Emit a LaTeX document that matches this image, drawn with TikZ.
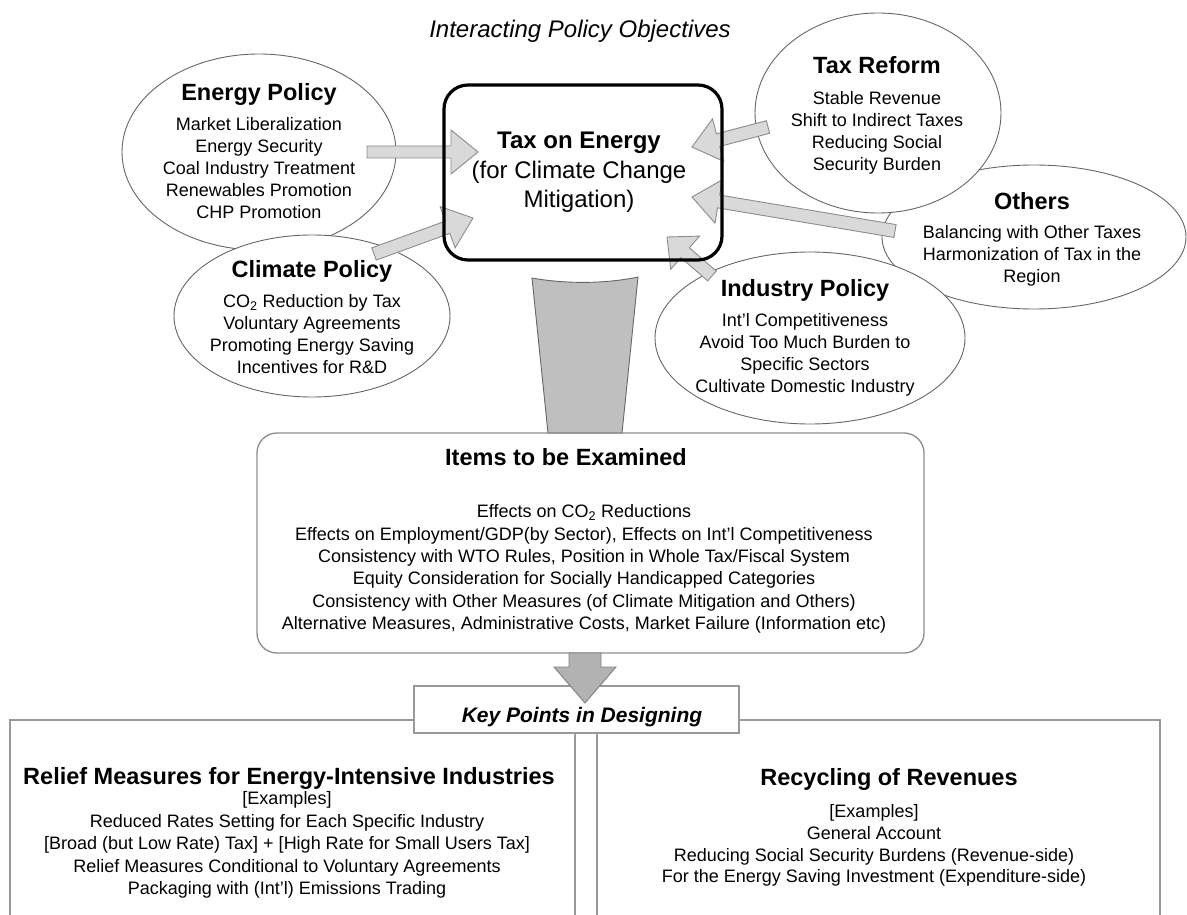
\documentclass[tikz,border=0pt]{standalone}
\usepackage{fontspec}
\setmainfont{Liberation Sans}
\usetikzlibrary{shapes.geometric,calc}

\newcommand\headfont{\fontsize{23.5}{28}\selectfont\bfseries}

% block arrow: [style]{tail}{tip}{half shaft width}{half head width}{head length}
\newcommand\blockarrow[6][]{%
  \coordinate (#2-base) at ($(#3)!#6!(#2)$);
  \path[#1] ($(#2)!#4!90:(#3)$) -- ($(#2-base)!#4!90:(#3)$)
    -- ($(#2-base)!#5!90:(#3)$) -- (#3)
    -- ($(#2-base)!#5!-90:(#3)$) -- ($(#2-base)!#4!-90:(#3)$)
    -- ($(#2)!#4!-90:(#3)$) -- cycle;
}

\begin{document}
\begin{tikzpicture}[x=1pt,y=-1pt,
  bubble/.style={ellipse, draw=black!60, line width=0.9pt, fill=white, inner sep=0pt},
  body/.style={align=center, font=\fontsize{18}{22}\selectfont, inner sep=0pt},
  inarrow/.style={fill=black!15, draw=black!45, line width=0.9pt, line join=miter},
  downarrow/.style={fill=black!30, draw=black!50, line width=0.9pt},
  funnel/.style={fill=black!25, draw=black!60, line width=0.9pt},
  itemsbox/.style={draw=black!45, line width=1.3pt, rounded corners=20pt, inner sep=0pt},
  panel/.style={draw=black!40, line width=1.5pt, inner sep=0pt},
  keybox/.style={draw=black!40, line width=1.4pt, fill=white, inner sep=0pt},
  taxbox/.style={draw=black, line width=3.2pt, rounded corners=24pt, inner sep=0pt}
]
\useasboundingbox (0,0) rectangle (1187,915);

% heading
\node[inner sep=0pt, font=\fontsize{24}{28}\selectfont\itshape] (heading) at (580,31) {Interacting Policy Objectives};

% policy bubbles
\node[bubble, minimum width=274, minimum height=196] (energy) at (259,152) {};
\node[bubble, minimum width=276, minimum height=162] (climate) at (312,316) {};
\node[bubble, minimum width=304, minimum height=144] (others) at (1034,237) {};
\node[bubble, minimum width=246, minimum height=200] (taxreform) at (878,113) {};
\node[bubble, minimum width=310, minimum height=172] (industry) at (810,338) {};

\node[body] (energyText) at (259,151) {{\headfont Energy Policy}\\[8pt]
  Market Liberalization\\ Energy Security\\ Coal Industry Treatment\\
  Renewables Promotion\\ CHP Promotion};
\node[body] (climateText) at (312,317) {{\headfont Climate Policy}\\[8pt]
  CO\textsubscript{2} Reduction by Tax\\ Voluntary Agreements\\
  Promoting Energy Saving\\ Incentives for R\&D};
\node[body] (taxreformText) at (877,115) {{\headfont Tax Reform}\\[9pt]
  Stable Revenue\\ Shift to Indirect Taxes\\ Reducing Social\\ Security Burden};
\node[body] (othersText) at (1032,239) {{\headfont Others}\\[7pt]
  Balancing with Other Taxes\\ Harmonization of Tax in the\\ Region};
\node[body] (industryText) at (805,338) {{\headfont Industry Policy}\\[8pt]
  Int'l Competitiveness\\ Avoid Too Much Burden to\\ Specific Sectors\\
  Cultivate Domestic Industry};

% arrow end points
\coordinate (energyTail) at (367,152);   \coordinate (energyTip) at (478,152);
\coordinate (climateTail) at (374,254);  \coordinate (climateTip) at (473,218);
\coordinate (reformTail) at (768,127);   \coordinate (reformTip) at (692,147);
\coordinate (othersTail) at (895,231);   \coordinate (othersTip) at (692,197);
\coordinate (industryTail) at (712,276); \coordinate (industryTip) at (667,237);

\blockarrow[inarrow]{energyTail}{energyTip}{6pt}{22pt}{27pt}
\blockarrow[inarrow]{climateTail}{climateTip}{6.5pt}{22pt}{27pt}
\blockarrow[inarrow]{reformTail}{reformTip}{6.5pt}{22pt}{27pt}
\blockarrow[inarrow]{othersTail}{othersTip}{6.5pt}{22pt}{27pt}
\blockarrow[inarrow]{industryTail}{industryTip}{6.5pt}{22pt}{24pt}

% central tax box
\node[taxbox, minimum width=278, minimum height=175] (tax) at (583,172.5) {};
\node[align=center, inner sep=0pt, font=\fontsize{24}{29.5}\selectfont] (taxText) at (579,172.5)
  {{\bfseries Tax on Energy}\\(for Climate Change\\Mitigation)};

% funnel into the examination box
\path[funnel] (532,278) .. controls (565,284) and (605,284) .. (638,277)
  -- (622,433) -- (548,433) -- cycle;

% items to be examined
\node[itemsbox, minimum width=667, minimum height=220] (items) at (590.5,543) {};
\node[inner sep=0pt, font=\headfont] (itemsTitle) at (566,457) {Items to be Examined};
\node[body, font=\fontsize{18}{22.4}\selectfont] (itemsText) at (584,569) {
  Effects on CO\textsubscript{2} Reductions\\
  Effects on Employment/GDP(by Sector), Effects on Int'l Competitiveness\\
  Consistency with WTO Rules, Position in Whole Tax/Fiscal System\\
  Equity Consideration for Socially Handicapped Categories\\
  Consistency with Other Measures (of Climate Mitigation and Others)\\
  Alternative Measures, Administrative Costs, Market Failure (Information etc)};

% design panels
\node[panel, minimum width=565, minimum height=230, anchor=north west] (relief) at (9,719) {};
\node[panel, minimum width=563, minimum height=230, anchor=north west] (recycling) at (596,719) {};
\node[keybox, minimum width=325, minimum height=47] (key) at (576.5,709.5) {};
\node[inner sep=0pt, font=\fontsize{21}{25}\selectfont\bfseries\itshape] (keyText) at (582,717) {Key Points in Designing};

\coordinate (downTail) at (585,653);
\coordinate (downTip) at (585,703);
\blockarrow[downarrow]{downTail}{downTip}{16pt}{31pt}{36pt}

\node[inner sep=0pt, font=\headfont] (reliefTitle) at (289,778) {Relief Measures for Energy-Intensive Industries};
\node[body, font=\fontsize{18}{22.5}\selectfont] (reliefText) at (287,845) {[Examples]\\
  Reduced Rates Setting for Each Specific Industry\\
  {[}Broad (but Low Rate) Tax] + [High Rate for Small Users Tax]\\
  Relief Measures Conditional to Voluntary Agreements\\
  Packaging with (Int'l) Emissions Trading};

\node[inner sep=0pt, font=\headfont] (recyclingTitle) at (889,779) {Recycling of Revenues};
\node[body, font=\fontsize{18}{21.7}\selectfont] (recyclingText) at (874,845.5) {[Examples]\\
  General Account\\
  Reducing Social Security Burdens (Revenue-side)\\
  For the Energy Saving Investment (Expenditure-side)};
\end{tikzpicture}
\end{document}
